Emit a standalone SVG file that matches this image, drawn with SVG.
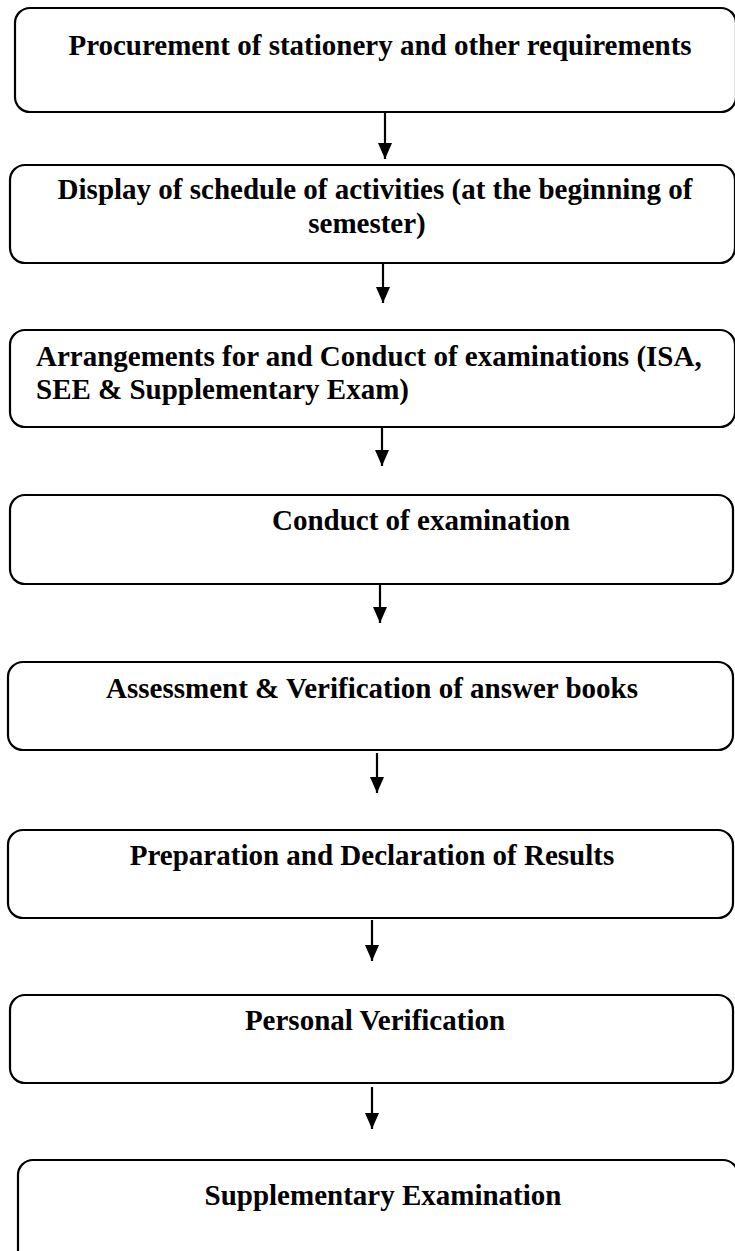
<svg xmlns="http://www.w3.org/2000/svg" width="735" height="1251" viewBox="0 0 735 1251">
<style>
.box{fill:#fff;stroke:#000;stroke-width:2.2}
.t{font-family:"Liberation Serif","Times New Roman",serif;font-weight:bold;font-size:29px;fill:#000}
.c{text-anchor:middle}
.ln{stroke:#000;stroke-width:2.2;fill:none}
</style>
<defs>
<marker id="arr" markerWidth="16" markerHeight="14" refX="16" refY="7" orient="auto" markerUnits="userSpaceOnUse" viewBox="0 0 16 14">
<path d="M0,0 L16,7 L0,14 Z" fill="#000"/>
</marker>
</defs>
<rect width="735" height="1251" fill="#fff"/>
<g id="n1"><rect class="box" x="15" y="8" width="721" height="104" rx="15"/>
<text class="t c" x="380" y="55">Procurement of stationery and other requirements</text></g>
<g id="n2"><rect class="box" x="10" y="165" width="725" height="98" rx="15"/>
<text class="t c" x="375" y="199">Display of schedule of activities (at the beginning of</text>
<text class="t c" x="367" y="233">semester)</text></g>
<g id="n3"><rect class="box" x="10" y="330" width="725" height="97" rx="15"/>
<text class="t" x="36" y="366">Arrangements for and Conduct of examinations (ISA,</text>
<text class="t" x="36" y="399">SEE &amp; Supplementary Exam)</text></g>
<g id="n4"><rect class="box" x="10" y="495" width="723" height="89" rx="15"/>
<text class="t" x="272" y="530">Conduct of examination</text></g>
<g id="n5"><rect class="box" x="8" y="662" width="725" height="88" rx="15"/>
<text class="t c" x="372" y="698">Assessment &amp; Verification of answer books</text></g>
<g id="n6"><rect class="box" x="8" y="830" width="725" height="88" rx="15"/>
<text class="t c" x="372" y="865">Preparation and Declaration of Results</text></g>
<g id="n7"><rect class="box" x="10" y="995" width="723" height="88" rx="15"/>
<text class="t c" x="375" y="1030">Personal Verification</text></g>
<g id="n8"><rect class="box" x="18" y="1160" width="720" height="110" rx="15"/>
<text class="t c" x="383" y="1205">Supplementary Examination</text></g>
<g id="connectors">
<line class="ln" x1="385" y1="113" x2="385" y2="159" marker-end="url(#arr)"/>
<line class="ln" x1="383" y1="264" x2="383" y2="303" marker-end="url(#arr)"/>
<line class="ln" x1="382" y1="428" x2="382" y2="466" marker-end="url(#arr)"/>
<line class="ln" x1="380" y1="585" x2="380" y2="623" marker-end="url(#arr)"/>
<line class="ln" x1="377" y1="753" x2="377" y2="793" marker-end="url(#arr)"/>
<line class="ln" x1="372" y1="920" x2="372" y2="961" marker-end="url(#arr)"/>
<line class="ln" x1="372" y1="1087" x2="372" y2="1129" marker-end="url(#arr)"/>
</g>
</svg>
